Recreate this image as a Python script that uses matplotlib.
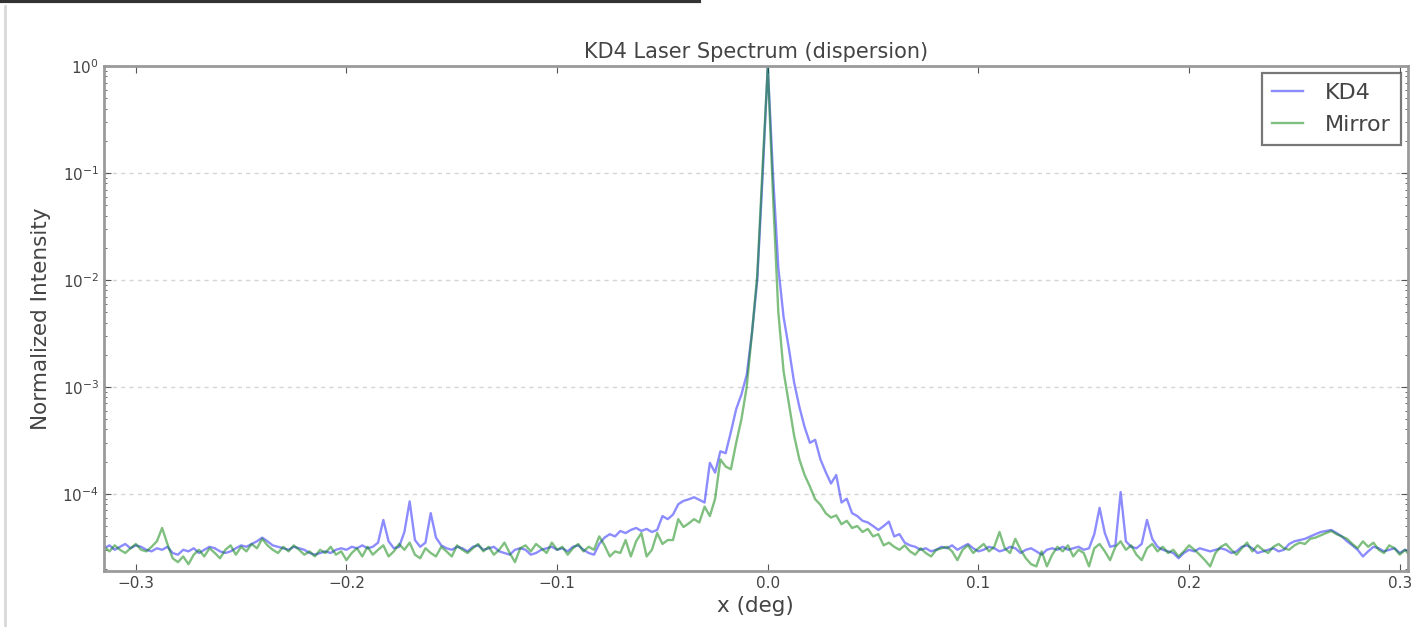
import numpy as np
import matplotlib
matplotlib.use("Agg")
import matplotlib.pyplot as plt
from matplotlib.lines import Line2D

# Sample grid of the spectrum (deg): start and step
x_start = -0.315
x_step = 0.0025

# Intensities in units of 1e-5 (normalized)
kd4 = [
    3.1, 3.3, 3.0, 3.2, 3.4, 3.1, 3.3, 3.2, 3.0, 2.9,
    3.1, 3.0, 3.2, 2.8, 2.7, 3.0, 2.9, 3.1, 2.8, 3.0,
    3.2, 3.1, 2.9, 2.8, 2.9, 3.1, 3.3, 3.2, 3.4, 3.6,
    3.9, 3.6, 3.3, 3.2, 3.1, 3.0, 3.2, 3.1, 3.0, 2.8,
    2.7, 2.8, 2.9, 2.8, 3.0, 3.1, 3.0, 3.2, 3.1, 3.3,
    3.1, 3.2, 3.5, 5.7, 3.6, 3.1, 3.2, 4.4, 8.5, 3.7,
    3.2, 3.5, 6.6, 3.9, 3.3, 3.1, 3.0, 3.2, 3.1, 2.9,
    3.2, 3.3, 3.0, 3.1, 3.2, 2.9, 2.8, 2.7, 3.0, 3.1,
    3.0, 2.7, 2.8, 3.0, 3.1, 3.2, 3.0, 3.1, 2.9, 3.2,
    3.3, 3.0, 2.8, 2.7, 3.4, 3.9, 4.2, 4.0, 4.5, 4.3,
    4.6, 4.8, 4.5, 4.7, 4.4, 4.6, 6.2, 5.8, 6.4, 8.0,
    8.6, 8.9, 9.3, 8.8, 8.3, 19.5, 15.8, 25, 24, 38,
    62, 85, 130, 320, 1000, 9000, 100000, 9500, 1300, 450,
    230, 110, 65, 42, 30, 32, 21, 16, 12.5, 15,
    8.3, 9.0, 6.6, 6.2, 5.6, 5.4, 5.0, 4.6, 5.0, 5.5,
    4.0, 4.2, 3.5, 3.3, 3.2, 3.0, 3.1, 2.9, 3.0, 3.2,
    3.1, 3.3, 3.0, 3.2, 3.4, 3.1, 2.9, 3.0, 3.2, 3.1,
    2.9, 3.0, 3.2, 3.1, 2.8, 3.0, 3.1, 2.9, 2.7, 3.0,
    3.1, 3.0, 3.2, 3.0, 3.1, 3.2, 3.0, 3.1, 4.2, 7.4,
    4.3, 3.2, 3.3, 10.4, 3.6, 3.2, 3.1, 3.4, 5.7, 3.8,
    3.2, 3.0, 2.9, 2.8, 2.5, 2.8, 3.0, 2.9, 3.1, 3.0,
    2.9, 3.0, 3.1, 3.0, 2.8, 2.9, 3.2, 3.3, 3.1, 2.8,
    2.9, 3.0, 3.1, 2.9, 3.0, 3.4, 3.6, 3.7, 3.8, 4.0,
    4.2, 4.4, 4.5, 4.6, 4.3, 4.0, 3.6, 3.3, 3.0, 2.6,
    2.9, 3.2, 3.1, 2.9, 3.0, 3.1, 2.8, 3.0, 2.9,
]

mirror = [
    3.2, 2.9, 3.3, 3.0, 2.8, 3.1, 3.4, 3.0, 2.9, 3.2,
    3.6, 4.8, 3.4, 2.5, 2.3, 2.6, 2.2, 2.7, 3.0, 2.6,
    3.1, 2.8, 2.5, 3.0, 3.3, 2.7, 3.2, 2.9, 3.4, 3.1,
    3.8, 3.3, 3.0, 2.8, 3.2, 2.9, 3.3, 3.0, 2.7, 2.9,
    2.6, 3.0, 2.8, 3.2, 2.7, 2.9, 2.4, 2.8, 3.1, 2.6,
    3.2, 2.7, 3.0, 3.3, 2.6, 2.9, 3.4, 3.0, 3.5, 2.7,
    2.5, 3.1, 2.8, 2.6, 3.2, 2.9, 2.6, 3.3, 3.0, 2.8,
    3.1, 3.4, 2.9, 3.2, 2.7, 3.0, 3.5, 2.8, 2.3, 3.1,
    3.3, 2.9, 3.4, 3.1, 2.8, 3.5, 3.0, 3.2, 2.7, 3.1,
    3.4, 2.9, 3.2, 3.0, 4.0, 3.3, 2.6, 2.9, 2.8, 3.7,
    2.6, 3.6, 4.3, 2.6, 3.0, 4.3, 3.4, 3.7, 3.7, 5.8,
    4.9, 5.3, 5.8, 5.4, 7.6, 6.2, 9.0, 21, 18, 17,
    30, 50, 100, 320, 1100, 11000, 100000, 6000, 500, 140,
    70, 35, 21, 15, 11.7, 8.9, 7.9, 6.6, 6.0, 6.3,
    5.2, 5.6, 4.8, 5.0, 4.4, 4.7, 4.0, 4.2, 3.3, 3.5,
    3.2, 3.0, 3.3, 2.9, 2.7, 3.1, 2.8, 2.6, 3.0, 3.1,
    3.2, 2.9, 2.4, 3.0, 3.3, 2.8, 3.1, 3.4, 2.9, 3.2,
    4.4, 3.1, 2.8, 3.8, 3.0, 2.5, 2.2, 2.1, 2.9, 2.1,
    2.7, 3.2, 2.9, 3.3, 2.6, 3.0, 2.8, 2.1, 3.1, 3.4,
    2.9, 2.4, 3.2, 3.6, 3.0, 3.3, 2.7, 2.4, 3.1, 3.4,
    2.9, 3.2, 2.8, 3.0, 2.6, 2.9, 3.3, 3.0, 2.7, 2.4,
    2.1, 2.8, 3.2, 3.4, 3.0, 2.7, 3.1, 3.5, 2.9, 3.3,
    3.0, 2.8, 3.2, 3.4, 3.1, 3.0, 3.3, 3.5, 3.4, 3.8,
    3.9, 4.1, 4.3, 4.5, 4.2, 4.0, 3.8, 3.4, 3.1, 3.6,
    3.2, 3.5, 3.0, 2.8, 3.3, 3.1, 2.7, 3.0, 2.6,
]

series_labels = ["KD4", "Mirror"]
x_ticks = [-0.3, -0.2, -0.1, 0.0, 0.1, 0.2, 0.3]
x_tick_labels = ["\u22120.3", "\u22120.2", "\u22120.1", "0.0", "0.1", "0.2", "0.3"]
y_ticks = [1e-4, 1e-3, 1e-2, 1e-1, 1e0]

unit = 1e-5
x = np.round(x_start + x_step * np.arange(len(kd4)), 5)
y_kd4 = np.array(kd4) * unit
y_mir = np.array(mirror) * unit

plt.rcParams['font.family'] = ['DejaVu Sans']
fig = plt.figure(figsize=(14.12, 6.27), dpi=100)
ax = fig.add_axes([0.0735, 0.0893, 0.9235, 0.8054])

ax.plot(x, y_kd4, color='b', alpha=0.45, lw=1.7, label=series_labels[0])
ax.plot(x, y_mir, color='g', alpha=0.5, lw=1.7, label=series_labels[1])

ax.set_yscale('log')
ax.set_xlim(-0.3152, 0.3038)
ax.set_ylim(1.9e-5, 1.0)
ax.set_xticks(x_ticks)
ax.set_xticklabels(x_tick_labels)
ax.set_yticks(y_ticks)
ax.yaxis.grid(True, which='major', linestyle=(0, (3, 3)), color='#d5d5d5', lw=1.0)
ax.tick_params(axis='both', which='both', direction='in', top=True, right=True,
               labelsize=11, colors='#555555', labelcolor='#444444')
ax.tick_params(which='major', length=5)
ax.tick_params(which='minor', length=2.5)
for s in ax.spines.values():
    s.set_color('#9a9a9a')
    s.set_linewidth(2.0)

ax.set_title("KD4 Laser Spectrum (dispersion)", fontsize=15, color='#444444', pad=6)
ax.set_xlabel("x (deg)", fontsize=15.5, color='#444444', labelpad=4)
ax.set_ylabel("Normalized Intensity", fontsize=15.5, color='#444444', labelpad=8)

leg = ax.legend(loc='upper right', fontsize=16, frameon=True, fancybox=False,
                handlelength=1.4, borderpad=0.45, labelspacing=0.55,
                handletextpad=1.0, borderaxespad=0.3)
leg.get_frame().set_edgecolor('#555555')
leg.get_frame().set_linewidth(1.6)
for t in leg.get_texts():
    t.set_color('#444444')

# screenshot frame artifacts
fig.add_artist(Line2D([5 / 1412, 5 / 1412], [0, 0.99], transform=fig.transFigure,
                      color='#d8d8d8', lw=2))
fig.add_artist(Line2D([0, 0.495], [0.998, 0.998], transform=fig.transFigure,
                      color='#333333', lw=3))

fig.savefig("out.png", dpi=100)
